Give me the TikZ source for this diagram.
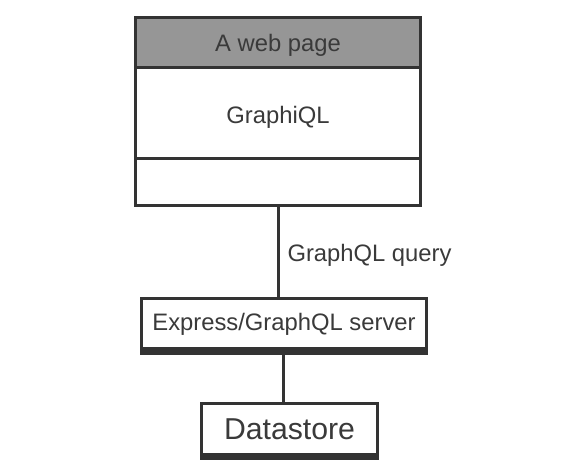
\documentclass[tikz,border=0pt]{standalone}
\usepackage{fontspec}
\setmainfont{Liberation Sans}
\usetikzlibrary{positioning}
\definecolor{edgegray}{HTML}{333333}
\definecolor{headgray}{HTML}{969696}
\definecolor{textgray}{HTML}{3A3A3A}

\begin{document}
\begin{tikzpicture}[x=1pt,y=-1pt,
    box/.style={draw=edgegray,line width=3pt,fill=white,inner sep=0pt,outer sep=0pt,text=textgray,text depth=0pt,font=\fontsize{23.8}{28}\selectfont},
    link/.style={draw=edgegray,line width=3pt}]
      \useasboundingbox (0,0) rectangle (588,474);
      % the web page
      \node[box,fill=headgray,minimum width=285pt,minimum height=50pt,text height=18.4pt](page) at (278,42.5){A web page};
      \node[box,minimum width=285pt,minimum height=90.5pt,text height=21.2pt,below=0pt of page](graphiql){GraphiQL};
      \node[box,minimum width=285pt,minimum height=47.5pt,below=0pt of graphiql](blank){};
      % server and store
      \node[box,minimum width=285pt,minimum height=50pt,text height=13pt](server) at (284,323.5){Express/GraphQL server};
      \node[box,minimum width=176pt,minimum height=51pt,text height=21.6pt,font=\fontsize{30.2}{34}\selectfont](store) at (289.5,428.5){Datastore};
      \fill[edgegray] ([xshift=-1.5pt]server.south west) rectangle ([xshift=1.5pt,yshift=-6.5pt]server.south east);
      \fill[edgegray] ([xshift=-1.5pt]store.south west) rectangle ([xshift=1.5pt,yshift=-6pt]store.south east);
      \draw[link] (blank.south) -- node[right,inner sep=8pt,text=textgray,text height=19.4pt,text depth=0pt,font=\fontsize{23.8}{28}\selectfont](query){GraphQL query} (blank.south |- server.north);
      \draw[link] ([xshift=-1pt]server.south) -- ([xshift=-1pt]server.south |- store.north);
\end{tikzpicture}
\end{document}
